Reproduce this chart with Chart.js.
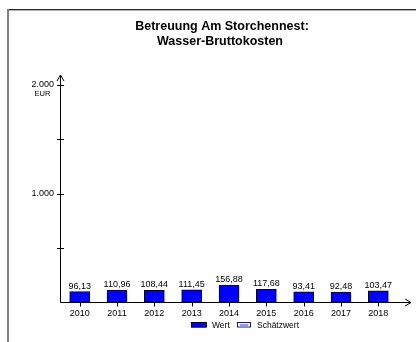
<!DOCTYPE html>
<html>
<head>
<meta charset="utf-8">
<script src="https://cdn.jsdelivr.net/npm/chart.js@4/dist/chart.umd.min.js"></script>
<style>
html,body{margin:0;padding:0;background:#fff;}
#wrap{position:relative;width:416px;height:342px;}
</style>
</head>
<body>
<div id="wrap"><canvas id="c" width="416" height="342"></canvas></div>
<script>
const titleLines = ['Betreuung Am Storchennest:', 'Wasser-Bruttokosten'];
const categories = ['2010','2011','2012','2013','2014','2015','2016','2017','2018'];
const wert = [96.13, 110.96, 108.44, 111.45, 156.88, 117.68, 93.41, 92.48, 103.47];
const schaetzwert = [];
const yMax = 2000;
const yStep = 500;
const yLabelled = [1000, 2000];
const yUnit = 'EUR';
const legendLabels = ['Wert', 'Schätzwert'];

const FONT = '"Liberation Sans", Arial, sans-serif';
const fmt = v => v.toLocaleString('de-DE', {minimumFractionDigits: 2, maximumFractionDigits: 2});
const fmtTick = v => v.toLocaleString('de-DE');

const deco = {
  id: 'deco',
  beforeDraw(chart) {
    const ctx = chart.ctx;
    ctx.save();
    ctx.fillStyle = '#fff';
    ctx.fillRect(0, 0, chart.width, chart.height);
    // frame
    ctx.fillStyle = '#2a2a2a';
    ctx.fillRect(7, 9, 409, 1);
    ctx.fillStyle = '#b0b0b0';
    ctx.fillRect(9, 10, 407, 1);
    ctx.fillStyle = '#808080';
    ctx.fillRect(7, 9, 2, 333);
    // title
    ctx.fillStyle = '#000';
    ctx.font = 'bold 12.5px ' + FONT;
    ctx.textAlign = 'center';
    ctx.textBaseline = 'middle';
    ctx.fillText(titleLines[0], 222, 27);
    ctx.fillText(titleLines[1], 220, 41.5);
    ctx.restore();
  },
  afterDatasetsDraw(chart) {
    const ctx = chart.ctx;
    const area = chart.chartArea;
    const xs = chart.scales.x, ys = chart.scales.y;
    const ax = area.left - 0.5;
    const ay = Math.round(ys.getPixelForValue(0)) + 0.5;
    ctx.save();
    ctx.strokeStyle = '#000';
    ctx.lineWidth = 1;
    // y axis with arrow
    ctx.beginPath();
    ctx.moveTo(ax, ay);
    ctx.lineTo(ax, 75);
    ctx.moveTo(ax - 3.5, 81);
    ctx.lineTo(ax, 75);
    ctx.lineTo(ax + 3.5, 81);
    ctx.stroke();
    // x axis with arrow
    ctx.beginPath();
    ctx.moveTo(ax, ay);
    ctx.lineTo(411, ay);
    ctx.moveTo(405, ay - 3.5);
    ctx.lineTo(411, ay);
    ctx.lineTo(405, ay + 3.5);
    ctx.stroke();
    // y ticks
    ctx.beginPath();
    for (let v = yStep; v <= yMax; v += yStep) {
      const py = Math.round(ys.getPixelForValue(v)) + 0.5;
      ctx.moveTo(ax - 3.5, py);
      ctx.lineTo(ax + 3.5, py);
    }
    // x ticks
    categories.forEach((c, i) => {
      const px = Math.round(xs.getPixelForValue(i)) + 0.5;
      ctx.moveTo(px, ay);
      ctx.lineTo(px, ay + 4);
    });
    ctx.stroke();
    // unit
    ctx.fillStyle = '#000';
    ctx.font = '7.5px ' + FONT;
    ctx.textAlign = 'center';
    ctx.textBaseline = 'middle';
    ctx.fillText(yUnit, 42.5, ys.getPixelForValue(yMax) + 8.5);
    // value labels
    ctx.font = '9px ' + FONT;
    ctx.textBaseline = 'alphabetic';
    const meta = chart.getDatasetMeta(0);
    meta.data.forEach((bar, i) => {
      ctx.fillText(fmt(wert[i]), bar.x, bar.y - 3);
    });
    // legend
    ctx.textAlign = 'left';
    ctx.textBaseline = 'middle';
    ctx.font = '8.5px ' + FONT;
    ctx.fillStyle = '#0000ff';
    ctx.fillRect(191, 322.5, 15, 5);
    ctx.strokeStyle = '#000033';
    ctx.strokeRect(191.5, 322.5, 15, 4.5);
    ctx.fillStyle = '#000';
    ctx.fillText(legendLabels[0], 212, 325.5);
    ctx.fillStyle = '#ffffff';
    ctx.fillRect(237, 322.5, 14, 5);
    ctx.strokeStyle = '#1a1a80';
    ctx.strokeRect(237.5, 322.5, 13, 4.5);
    ctx.fillStyle = '#3333cc';
    ctx.fillRect(240, 324.5, 8, 1);
    ctx.fillStyle = '#000';
    ctx.fillText(legendLabels[1], 257, 325.5);
    ctx.restore();
  }
};

new Chart(document.getElementById('c'), {
  type: 'bar',
  data: {
    labels: categories,
    datasets: [
      { label: legendLabels[0], data: wert, backgroundColor: '#0000ff', borderColor: '#000033', borderWidth: 1, borderSkipped: false, barThickness: 20 },
      { label: legendLabels[1], data: schaetzwert, backgroundColor: '#ffffff', borderColor: '#1a1a80', borderWidth: 1, barThickness: 20 }
    ]
  },
  options: {
    responsive: false,
    animation: false,
    devicePixelRatio: 1,
    layout: { padding: { left: 0, top: 85, right: 19, bottom: 0 } },
    plugins: { legend: { display: false }, title: { display: false }, tooltip: { enabled: false } },
    datasets: { bar: { grouped: false } },
    scales: {
      x: {
        grid: { display: false, drawTicks: false },
        border: { display: false },
        ticks: { color: '#000', font: { family: FONT, size: 9 }, padding: 6, maxRotation: 0, autoSkip: false },
        afterFit(s) { s.height = 40; }
      },
      y: {
        min: 0, max: yMax,
        grid: { display: false, drawTicks: false },
        border: { display: false },
        ticks: {
          stepSize: yStep, color: '#000', font: { family: FONT, size: 9 }, padding: 7,
          callback: v => yLabelled.includes(v) ? fmtTick(v) : ''
        },
        afterFit(s) { s.width = 61; }
      }
    }
  },
  plugins: [deco]
});
</script>
</body>
</html>
